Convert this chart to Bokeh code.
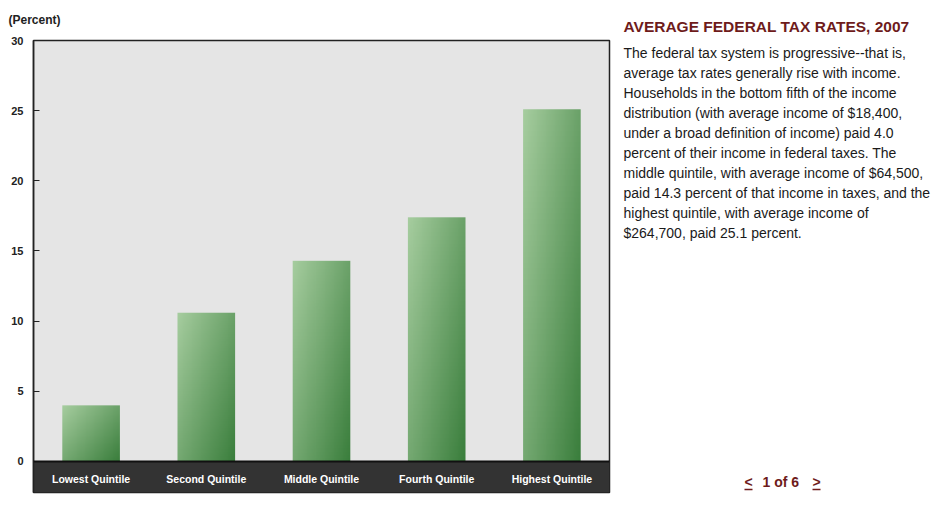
import numpy as np
from bokeh.plotting import figure
from bokeh.layouts import row
from bokeh.models import Range1d, FixedTicker, BoxAnnotation, Span
from bokeh.core.properties import value
from bokeh.embed import file_html
from bokeh.resources import INLINE

categories = ["Lowest Quintile", "Second Quintile", "Middle Quintile", "Fourth Quintile", "Highest Quintile"]
tax_rates = [4.0, 10.6, 14.3, 17.4, 25.1]
y_ticks = [0, 5, 10, 15, 20, 25, 30]

title_text = "AVERAGE FEDERAL TAX RATES, 2007"
body_lines = [
    "The federal tax system is progressive--that is,",
    "average tax rates generally rise with income.",
    "Households in the bottom fifth of the income",
    "distribution (with average income of $18,400,",
    "under a broad definition of income) paid 4.0",
    "percent of their income in federal taxes. The",
    "middle quintile, with average income of $64,500,",
    "paid 14.3 percent of that income in taxes, and the",
    "highest quintile, with average income of",
    "$264,700, paid 25.1 percent.",
]
pager = ["<", "1 of 6", ">"]

FONT = "Liberation Sans"
MAROON = "#6e1b1b"
H = 500
FL, FT, FR, FB = 33, 40, 609, 492  # frame edges on the page
W1 = 615
W2 = 325

p = figure(width=W1, height=H, x_range=Range1d(0, len(categories)), y_range=Range1d(-2.21, 30),
           output_backend="svg", toolbar_location=None,
           min_border_left=FL, min_border_right=W1 - FR, min_border_top=FT, min_border_bottom=H - FB)
p.xaxis.visible = False
p.xgrid.visible = False
p.ygrid.visible = False
p.background_fill_color = "#e5e5e5"
p.border_fill_color = "white"
p.outline_line_color = "#222222"
p.outline_line_width = 1.5

p.title.text = "(Percent)"
p.title.align = "left"
p.title.offset = -(FL - 8)
p.title.standoff = 23
p.title.vertical_align = "top"
p.title.text_font = FONT
p.title.text_font_size = "12px"
p.title.text_font_style = "bold"
p.title.text_color = "#222222"

ya = p.yaxis[0]
ya.ticker = FixedTicker(ticks=y_ticks)
ya.major_label_text_font = FONT
ya.major_label_text_font_style = "bold"
ya.major_label_text_font_size = "11px"
ya.major_label_text_color = "#222222"
ya.major_tick_in = 6
ya.major_tick_out = 0
ya.minor_tick_line_color = None
ya.axis_line_color = "#222222"
ya.axis_line_width = 1.5
ya.major_tick_line_color = "#222222"
ya.major_label_standoff = 10

# dark band below zero
p.add_layout(BoxAnnotation(top=0, fill_color="#333333", fill_alpha=1, line_color=None, level="underlay"))

# gradient image for bars
nx, ny = 64, 64
u = np.linspace(0, 1, nx)[None, :]
v = np.linspace(1, 0, ny)[:, None]
t = np.clip(0.55 * u + 0.45 * v, 0, 1)
c0 = np.array([166, 205, 159])
c1 = np.array([58, 126, 60])
img = np.empty((ny, nx), dtype=np.uint32)
view = img.view(dtype=np.uint8).reshape((ny, nx, 4))
for k in range(3):
    view[:, :, k] = (c0[k] + (c1[k] - c0[k]) * t).astype(np.uint8)
view[:, :, 3] = 255

centers = np.arange(len(categories)) + 0.5
bw = 0.5
p.image_rgba(image=[img] * len(categories), x=list(centers - bw / 2), y=[0] * len(categories),
             dw=[bw] * len(categories), dh=tax_rates)
p.add_layout(Span(location=0, dimension="width", line_color="#111111", line_width=2))

p.text(x=list(centers), y=[-1.28] * len(categories), text=categories, text_color="white",
       text_font=value(FONT), text_font_style="bold", text_font_size="10.5px",
       text_align="center", text_baseline="middle")

# text panel: frame is aligned with the chart frame; coordinates are page pixels (y down)
q = figure(width=W2, height=H, x_range=Range1d(W1, W1 + W2), y_range=Range1d(FB, FT),
           output_backend="svg", toolbar_location=None, x_axis_type=None, y_axis_type=None,
           min_border=0, min_border_top=FT, min_border_bottom=H - FB, outline_line_color=None)
q.grid.visible = False
q.title.text = title_text
q.title.align = "left"
q.title.offset = 623 - W1
q.title.standoff = 8
q.title.vertical_align = "top"
q.title.text_font = FONT
q.title.text_font_size = "15.5px"
q.title.text_font_style = "bold"
q.title.text_color = MAROON

def txt(xs, ys, texts, size, color, bold=False):
    q.text(x=xs, y=ys, text=texts, text_font=value(FONT), text_font_size=size, text_color=color,
           text_font_style="bold" if bold else "normal", text_baseline="middle", text_align="left")

txt([623] * len(body_lines), [52 + 20 * i for i in range(len(body_lines))], body_lines, "14px", "#1a1a1a")
txt([744, 762, 812], [481] * 3, pager, "14px", MAROON, True)
q.segment(x0=[744, 812], x1=[752, 820], y0=[489, 489], y1=[489, 489], line_color=MAROON, line_width=1.5)

open("out.html", "w").write(file_html(row(p, q), INLINE))
